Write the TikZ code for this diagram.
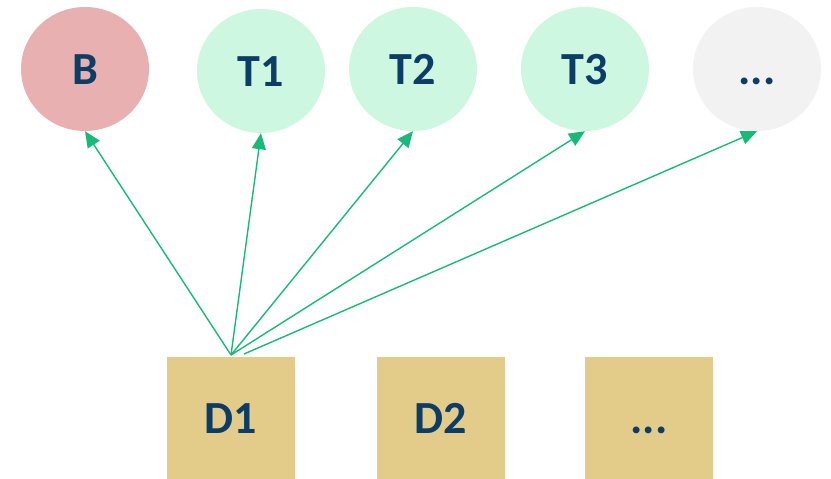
\documentclass[tikz,border=0pt]{standalone}
\usepackage{fontspec}
\setmainfont{Carlito}
\usetikzlibrary{shapes.geometric,arrows.meta}
\definecolor{labelblue}{RGB}{12,61,102}
\definecolor{bfill}{RGB}{232,176,176}
\definecolor{tfill}{RGB}{205,247,225}
\definecolor{gfill}{RGB}{242,242,242}
\definecolor{dfill}{RGB}{227,204,137}
\definecolor{arrowgreen}{RGB}{24,186,122}
\begin{document}
\begin{tikzpicture}[x=1pt,y=-1pt,
  lbl/.style={text=labelblue,font=\fontsize{46}{46}\selectfont\bfseries,text height=30pt,text depth=0pt},
  circ/.style={ellipse,lbl,draw=none,minimum width=128pt,minimum height=124pt,inner sep=0pt},
  dbox/.style={rectangle,lbl,fill=dfill,draw=none,minimum width=128pt,minimum height=122pt,inner sep=0pt},
  link/.style={draw=arrowgreen,line width=1.4pt,-{Triangle[length=16pt,width=14pt]}}]
\useasboundingbox (0,0) rectangle (831,479);
% top row of circles
\node[circ,fill=bfill] (B)  at (85,69)  {B};
\node[circ,fill=tfill] (T1) at (261,71) {T1};
\node[circ,fill=tfill] (T2) at (413,69) {T2};
\node[circ,fill=tfill] (T3) at (585,69) {T3};
\node[circ,fill=gfill] (TM) at (757,69) {...};
% bottom row of boxes
\node[dbox] (D1) at (231,418) {D1};
\node[dbox] (D2) at (441,418) {D2};
\node[dbox] (DM) at (649,418) {...};
% arrow origins on top of D1
\coordinate (s1) at (231,355);
\coordinate (s2) at (244,354);
% connectors
\draw[link] (s1) -- (B.south);
\draw[link] (s1) -- (T1.south);
\draw[link] (s1) -- (T2.south);
\draw[link] (s1) -- (T3.south);
\draw[link] (s2) -- (TM.south);
\end{tikzpicture}
\end{document}
